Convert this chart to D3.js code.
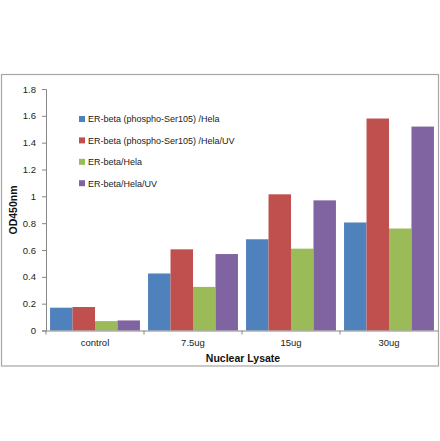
<!DOCTYPE html>
<html>
<head>
<meta charset="utf-8">
<script src="https://cdn.jsdelivr.net/npm/d3@7"></script>
<style>
  body { margin: 0; background: #fff; }
  svg { display: block; font-family: "Liberation Sans", Arial, sans-serif; }
</style>
</head>
<body>
<div id="plot"></div>
<script>
const categories = ["control", "7.5ug", "15ug", "30ug"];
const seriesNames = [
  "ER-beta (phospho-Ser105) /Hela",
  "ER-beta (phospho-Ser105) /Hela/UV",
  "ER-beta/Hela",
  "ER-beta/Hela/UV"
];
const phosphoHela   = [0.17, 0.425, 0.68, 0.805];
const phosphoHelaUV = [0.175, 0.605, 1.015, 1.58];
const betaHela      = [0.07, 0.325, 0.61, 0.76];
const betaHelaUV    = [0.075, 0.57, 0.97, 1.52];
const yTicks = [0, 0.2, 0.4, 0.6, 0.8, 1, 1.2, 1.4, 1.6, 1.8];
const colors = ["#4F81BD", "#C0504D", "#9BBB59", "#8064A2"];

const seriesValues = [phosphoHela, phosphoHelaUV, betaHela, betaHelaUV];

const width = 440;
const height = 441;
const margin = { top: 89, right: 2, bottom: 110, left: 46 };

const svg = d3.select("#plot")
  .append("svg")
  .attr("width", width)
  .attr("height", height);

// chart frame
svg.append("rect")
  .attr("x", 1.5)
  .attr("y", 74.5)
  .attr("width", 437)
  .attr("height", 291.5)
  .attr("fill", "none")
  .attr("stroke", "#a6a6a6")
  .attr("stroke-width", 1.2);

const x = d3.scaleBand()
  .domain(categories)
  .range([margin.left, width - margin.right])
  .paddingInner(0)
  .paddingOuter(0);

const xs = d3.scaleBand()
  .domain(seriesNames)
  .range([0, x.bandwidth()])
  .paddingOuter(0.18)
  .paddingInner(0);

const y = d3.scaleLinear()
  .domain([0, 1.8])
  .range([height - margin.bottom - 0.5, margin.top]);

// bars
const groups = svg.append("g")
  .selectAll("g")
  .data(seriesNames)
  .join("g")
  .attr("fill", (d, i) => colors[i]);

groups.selectAll("rect")
  .data((s, i) => categories.map((c, j) => ({ c, s, v: seriesValues[i][j] })))
  .join("rect")
  .attr("x", d => x(d.c) + xs(d.s))
  .attr("y", d => y(d.v))
  .attr("width", xs.bandwidth())
  .attr("height", d => y(0) - y(d.v));

// y axis
const yAxis = svg.append("g")
  .attr("transform", `translate(${margin.left},0)`)
  .call(d3.axisLeft(y).tickValues(yTicks).tickSize(4).tickPadding(6).tickFormat(d3.format("~g")));
yAxis.select(".domain").attr("stroke", "#868686");
yAxis.selectAll(".tick line").attr("stroke", "#868686");
yAxis.selectAll(".tick text")
  .attr("font-size", 9.5)
  .attr("fill", "#222");

// x axis
const xAxis = svg.append("g")
  .attr("transform", `translate(0,${y(0)})`)
  .call(d3.axisBottom(x).tickSize(0).tickPadding(9));
xAxis.select(".domain").attr("stroke", "#868686");
xAxis.selectAll(".tick text")
  .attr("font-size", 9.5)
  .attr("fill", "#222");

// category boundary ticks
svg.append("g")
  .selectAll("line")
  .data(categories)
  .join("line")
  .attr("x1", d => x(d))
  .attr("x2", d => x(d))
  .attr("y1", y(0))
  .attr("y2", y(0) + 4)
  .attr("stroke", "#868686");

// axis titles
svg.append("text")
  .attr("x", 243)
  .attr("y", 362)
  .attr("text-anchor", "middle")
  .attr("font-size", 10.5)
  .attr("font-weight", "bold")
  .attr("fill", "#111")
  .text("Nuclear Lysate");

svg.append("text")
  .attr("transform", "rotate(-90)")
  .attr("x", -210)
  .attr("y", 17)
  .attr("text-anchor", "middle")
  .attr("font-size", 10.5)
  .attr("font-weight", "bold")
  .attr("fill", "#111")
  .text("OD450nm");

// legend
const legend = svg.append("g")
  .selectAll("g")
  .data(seriesNames)
  .join("g")
  .attr("transform", (d, i) => `translate(79,${119 + i * 21.4})`);

legend.append("rect")
  .attr("x", 0)
  .attr("y", -3)
  .attr("width", 6)
  .attr("height", 6)
  .attr("fill", (d, i) => colors[i]);

legend.append("text")
  .attr("x", 9)
  .attr("y", 3.3)
  .attr("font-size", 9)
  .attr("fill", "#222")
  .text(d => d);
</script>
</body>
</html>
